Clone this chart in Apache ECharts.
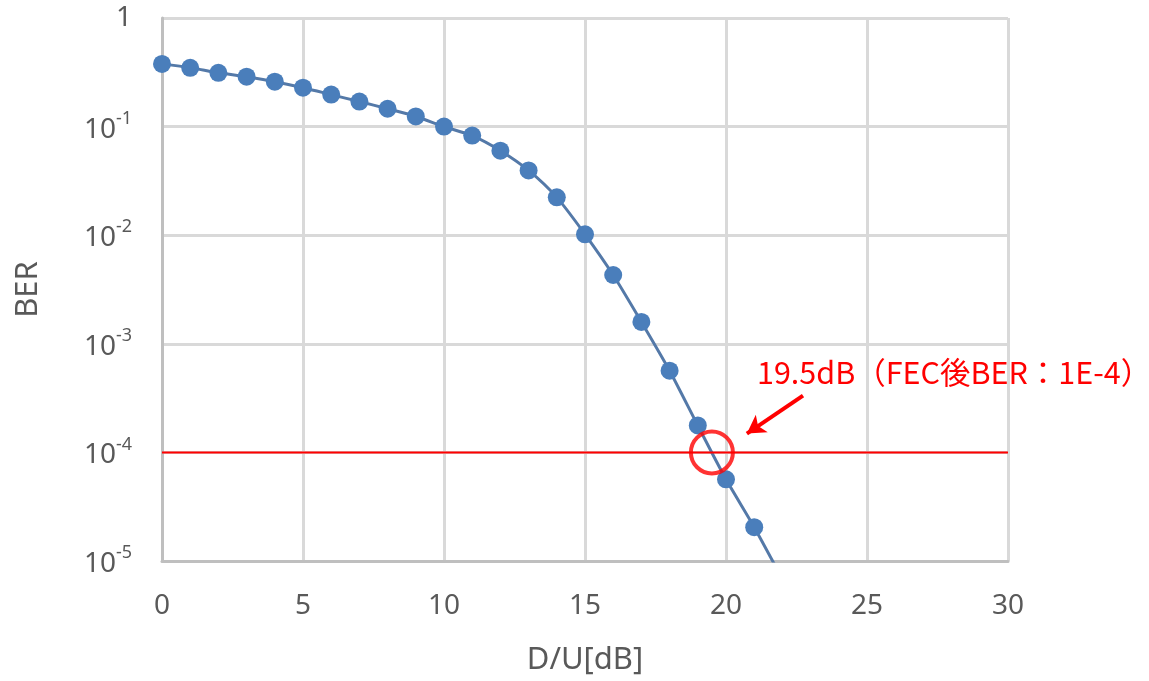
<!DOCTYPE html>
<html><head><meta charset="utf-8">
<script src="https://cdn.jsdelivr.net/npm/echarts@6/dist/echarts.min.js"></script>
<style>html,body{margin:0;padding:0;background:#fff}#c{width:1149px;height:681px}</style>
</head><body><div id="c"></div>
<script>
const du = [0,1,2,3,4,5,6,7,8,9,10,11,12,13,14,15,16,17,18,19,20,21];
const ber = [0.378,0.348,0.313,0.288,0.259,0.228,0.197,0.170,0.146,0.124,0.100,0.0826,0.060,0.0395,0.0223,0.0102,0.0043,0.00159,0.000565,0.000177,0.0000565,0.0000205];
const tailPoint = [22, 0.0000068];
const fecLevel = 1e-4;
const fecRange = [0, 30];
const fecPoint = [19.5, 1e-4];
const arrowFrom = [22.73, 3.33e-4];
const arrowTo = [20.74, 1.49e-4];
const annotation = '19.5dB（FEC後BER：1E-4）';
const xTicks = [0,5,10,15,20,25,30];

const chart = echarts.init(document.getElementById('c'));
const gray = '#595959';
const lineData = du.map((x,i)=>[x,ber[i]]);
lineData.push({value: tailPoint, symbol: 'none'});

chart.setOption({
  backgroundColor: '#fff',
  animation: false,
  grid: {left: 162, right: 141, top: 18, bottom: 118},
  xAxis: {
    type: 'value', min: 0, max: 30, interval: 5,
    name: 'D/U[dB]', nameLocation: 'middle', nameGap: 84,
    nameTextStyle: {color: gray, fontSize: 31, fontFamily: 'Noto Sans'},
    axisLine: {lineStyle: {color: '#bfbfbf', width: 3}},
    axisTick: {show: false},
    axisLabel: {color: gray, fontSize: 28, fontFamily: 'Noto Sans', margin: 31,
      formatter: v => xTicks.includes(v) ? String(v) : ''},
    splitLine: {lineStyle: {color: '#d9d9d9', width: 3}}
  },
  yAxis: {
    type: 'log', logBase: 10, min: 1e-5, max: 1,
    name: 'BER', nameLocation: 'middle', nameGap: 118, nameRotate: 90,
    nameTextStyle: {color: gray, fontSize: 31, fontFamily: 'Noto Sans'},
    axisLine: {show: true, lineStyle: {color: '#bfbfbf', width: 3}},
    axisTick: {show: false},
    minorSplitLine: {show: false},
    splitLine: {show: true, lineStyle: {color: '#d9d9d9', width: 3}},
    axisLabel: {
      margin: 30, color: gray, fontFamily: 'Noto Sans', fontSize: 28, align: 'right',
      formatter: function (v) {
        const e = Math.round(Math.log10(v));
        if (e === 0) return '1';
        return '{b|10}{s|' + e + '}';
      },
      rich: {
        b: {fontSize: 28, color: gray, fontFamily: 'Noto Sans', lineHeight: 34, verticalAlign: 'bottom'},
        s: {fontSize: 18, color: gray, fontFamily: 'Noto Sans', lineHeight: 34, verticalAlign: 'top', padding: [0,0,12,0]}
      }
    }
  },
  series: [
    {
      type: 'line', data: lineData, smooth: 0.25,
      symbol: 'circle', symbolSize: 18,
      lineStyle: {color: '#5479a8', width: 3},
      itemStyle: {color: '#4a7ebb'},
      z: 3
    },
    {
      type: 'line', data: fecRange.map(x=>[x,fecLevel]), symbol: 'none',
      lineStyle: {color: '#ff0000', width: 2}, z: 4, silent: true,
      markLine: {
        silent: true, symbol: ['none','arrow'], symbolSize: [16,18],
        lineStyle: {color: '#ff0000', width: 4, type: 'solid'},
        label: {show: false},
        data: [[{coord: arrowFrom}, {coord: arrowTo}]]
      }
    },
    {
      type: 'scatter', data: [fecPoint], symbol: 'circle', symbolSize: 42,
      itemStyle: {color: 'rgba(0,0,0,0)', borderColor: '#ff0000', borderWidth: 4}, z: 5, silent: true
    }
  ],
  graphic: [{
    type: 'text', x: 757, y: 372,
    style: {text: annotation, fill: '#ff0000', fontSize: 30.5, fontFamily: 'Noto Sans CJK JP', textVerticalAlign: 'middle'}
  }]
});
</script></body></html>
